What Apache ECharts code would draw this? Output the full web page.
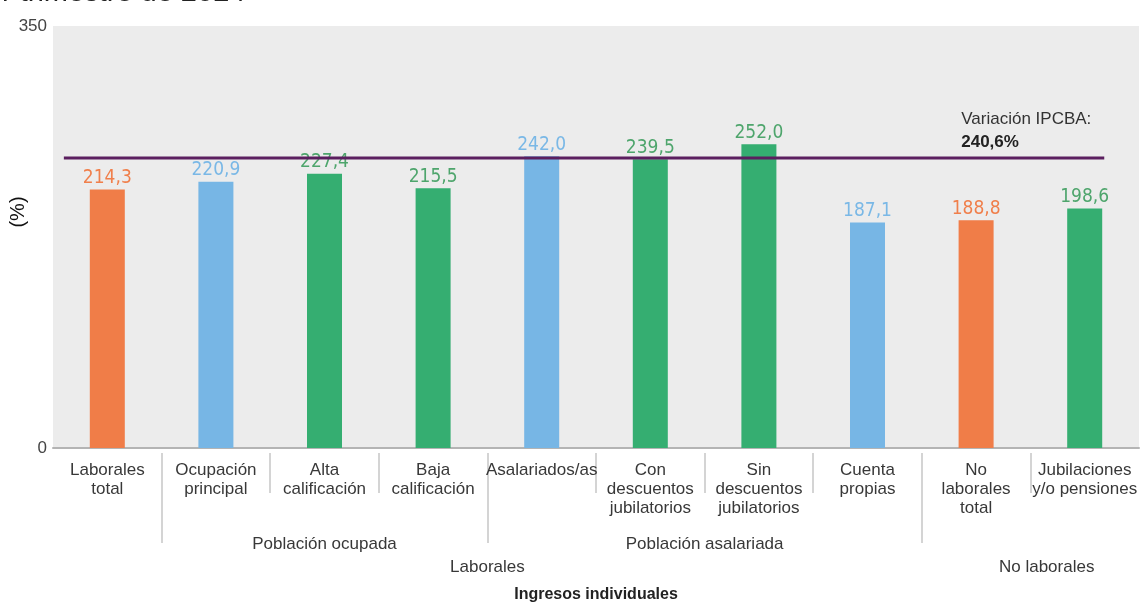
<!DOCTYPE html>
<html><head><meta charset="utf-8">
<script src="https://cdn.jsdelivr.net/npm/echarts@6/dist/echarts.min.js"></script>
<style>html,body{margin:0;padding:0;background:#fff}#c{width:1146px;height:604px}</style>
</head><body><div id="c"></div>
<script>
const categories = ['Laborales\ntotal','Ocupación\nprincipal','Alta\ncalificación','Baja\ncalificación','Asalariados/as','Con\ndescuentos\njubilatorios','Sin\ndescuentos\njubilatorios','Cuenta\npropias','No\nlaborales\ntotal','Jubilaciones\ny/o pensiones'];
const values = [214.3, 220.9, 227.4, 215.5, 242.0, 239.5, 252.0, 187.1, 188.8, 198.6];
const kinds = ['total','main','sub','sub','main','sub','sub','main','total','sub'];
const ipcba = 240.6;
const ipcbaLabel = 'Variación IPCBA:';
const yTicks = [0, 350];
const shortSeparators = [2, 3, 5, 6, 7, 9];
const longSeparators = [1, 4, 8];
const subGroupLabels = ['Población ocupada', 'Población asalariada'];
const subGroupCenters = [2.5, 6];
const groupLabels = ['Laborales', 'No laborales'];
const groupCenters = [4, 9.15];
const axisTitle = 'Ingresos individuales';
const yName = '(%)';
const titleFragment = 'r trimestre de 2024';

const barColors = { total: '#f07d48', main: '#77b6e5', sub: '#35ae71' };
const labelColors = { total: '#f07f4b', main: '#7ab8e6', sub: '#4ea56c' };
const fmt = v => v.toFixed(1).replace('.', ',');
const narrow = '"Liberation Sans Narrow","DejaVu Sans Condensed","Liberation Sans",sans-serif';
const sans = '"Liberation Sans",Arial,sans-serif';

const chart = echarts.init(document.getElementById('c'));
const valueAxisBase = { type: 'value', gridIndex: 0, min: 0, max: 10, position: 'bottom',
  splitLine: { show: false }, axisLine: { show: false } };

chart.setOption({
  animation: false,
  backgroundColor: '#ffffff',
  graphic: [{
    type: 'text', left: 2, top: -22,
    style: { text: titleFragment, fontSize: 29, fontFamily: sans, fill: '#222' }
  }],
  grid: { left: 53, right: 7, top: 26, bottom: 156, show: true, backgroundColor: '#ececec', borderWidth: 0,
    containLabel: false, outerBoundsMode: 'none' },
  yAxis: {
    type: 'value', min: yTicks[0], max: yTicks[1], interval: yTicks[1] - yTicks[0],
    name: yName, nameLocation: 'middle', nameGap: 25, nameMoveOverlap: false,
    nameTextStyle: { fontSize: 20, color: '#111', fontFamily: sans, padding: [0, 0, 0, 50] },
    axisLine: { show: false }, axisTick: { show: false }, splitLine: { show: false },
    axisLabel: { fontSize: 17, color: '#444', fontFamily: sans, margin: 6 }
  },
  xAxis: [
    {
      type: 'category', data: categories, position: 'bottom',
      axisLine: { show: true, lineStyle: { color: '#b4b4b4', width: 2 } },
      axisTick: { show: false },
      axisLabel: { interval: 0, fontSize: 17, lineHeight: 19, color: '#383838', fontFamily: sans, margin: 13 },
      name: axisTitle, nameLocation: 'middle', nameGap: 139, nameMoveOverlap: false,
      nameTextStyle: { fontSize: 16, fontWeight: 'bold', color: '#222', fontFamily: sans }
    },
    Object.assign({}, valueAxisBase, {
      offset: 5,
      axisTick: { show: true, customValues: shortSeparators, length: 40, lineStyle: { color: '#c6c6c6', width: 1.5 } },
      axisLabel: { show: false }
    }),
    Object.assign({}, valueAxisBase, {
      offset: 5,
      axisTick: { show: true, customValues: longSeparators, length: 90, lineStyle: { color: '#c6c6c6', width: 1.5 } },
      axisLabel: { show: true, customValues: subGroupCenters, margin: 83, fontSize: 17, color: '#383838', fontFamily: sans,
        formatter: v => subGroupLabels[subGroupCenters.indexOf(v)] || '' }
    }),
    Object.assign({}, valueAxisBase, {
      offset: 0,
      axisTick: { show: false },
      axisLabel: { show: true, customValues: groupCenters, margin: 111, fontSize: 17, color: '#383838', fontFamily: sans,
        formatter: v => groupLabels[groupCenters.indexOf(v)] || '' }
    })
  ],
  series: [
    {
      type: 'bar', xAxisIndex: 0, yAxisIndex: 0, barWidth: 35,
      data: values.map((v, i) => ({
        value: v,
        itemStyle: { color: barColors[kinds[i]] },
        label: { color: labelColors[kinds[i]] }
      })),
      label: { show: true, position: 'top', distance: 2, fontSize: 19, fontFamily: narrow,
        formatter: p => fmt(p.value) }
    },
    {
      type: 'line', xAxisIndex: 3, yAxisIndex: 0, z: 5,
      symbol: 'circle', symbolSize: 0, silent: true,
      lineStyle: { color: '#5b1f5f', width: 3 },
      data: [
        [0.1, ipcba],
        { value: [9.68, ipcba], label: {
            show: true, position: 'top', distance: 4, align: 'left', offset: [-143, 0],
            formatter: '{a|' + ipcbaLabel + '}\n{b|' + fmt(ipcba) + '%}',
            rich: {
              a: { fontSize: 17, lineHeight: 23, color: '#333', fontFamily: sans },
              b: { fontSize: 17, lineHeight: 23, color: '#222', fontWeight: 'bold', fontFamily: sans }
            }
        } }
      ]
    }
  ]
});
</script></body></html>
